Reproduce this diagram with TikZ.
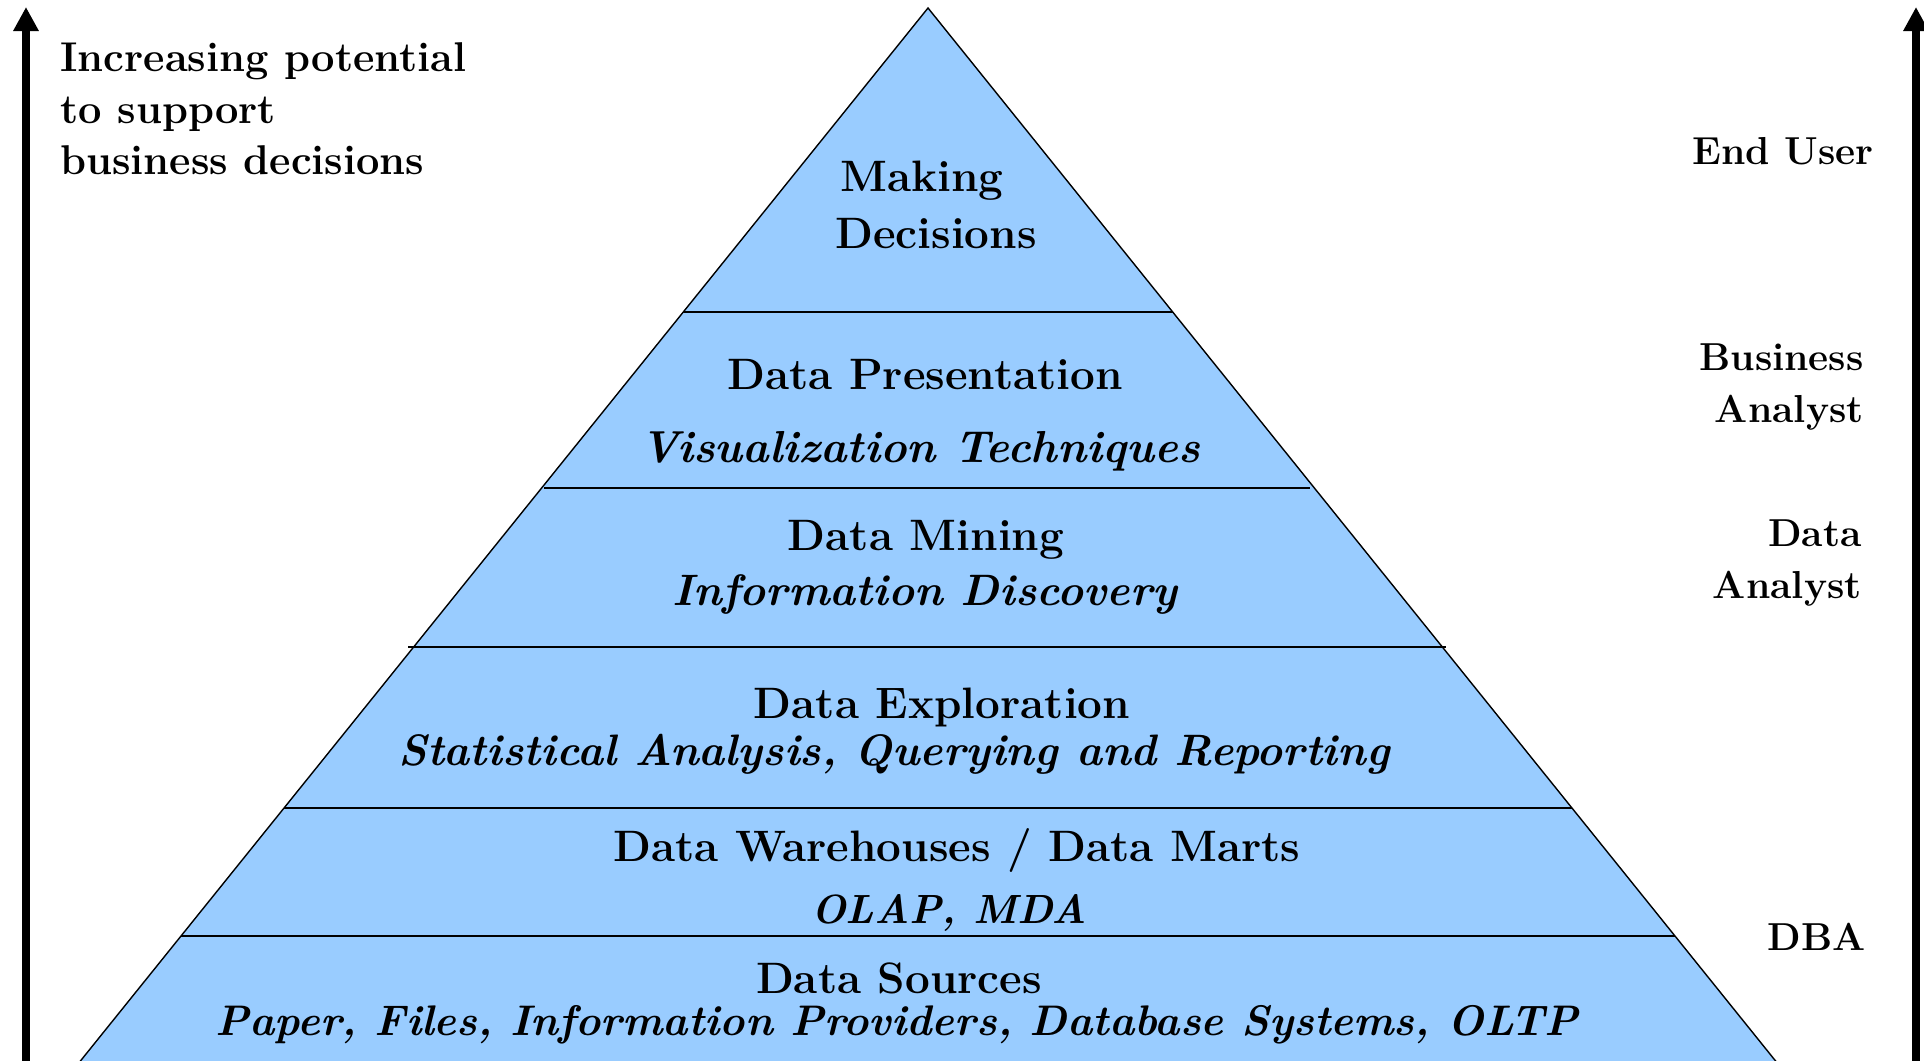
\documentclass[tikz,border=0pt]{standalone}
\usetikzlibrary{arrows.meta}
\definecolor{pyrblue}{HTML}{99CCFF}
\begin{document}
\begin{tikzpicture}[x=0.5pt,y=-0.5pt,
  lbl/.style={font=\fontsize{22}{26}\selectfont\bfseries, inner sep=0pt},
  itl/.style={font=\fontsize{22}{26}\selectfont\bfseries\itshape, inner sep=0pt},
  side/.style={font=\fontsize{19.5}{26.3}\selectfont\bfseries, inner sep=0pt, align=right, anchor=east},
  tier/.style={line width=0.85pt},
  edge/.style={line width=0.7pt},
  axis/.style={line width=4pt, -{Triangle[length=12pt,width=12pt]}}]
\useasboundingbox (0,0) rectangle (1924,1061);
% pyramid
\begin{scope}
\clip (0,0) rectangle (1924,1061);
\coordinate (apex) at (928,8);
\coordinate (bl) at (49,1100);
\coordinate (br) at (1807,1100);
\filldraw[fill=pyrblue, draw=black, edge] (apex) -- (br) -- (bl) -- cycle;
\end{scope}
% tier lines
\coordinate (t1a) at (683,312);  \coordinate (t1b) at (1173,312);
\coordinate (t2a) at (544,488);  \coordinate (t2b) at (1310,488);
\coordinate (t3a) at (408,647);  \coordinate (t3b) at (1446,647);
\coordinate (t4a) at (284,808);  \coordinate (t4b) at (1572,808);
\coordinate (t5a) at (181,936);  \coordinate (t5b) at (1675,936);
\draw[tier] (t1a) -- (t1b);
\draw[tier] (t2a) -- (t2b);
\draw[tier] (t3a) -- (t3b);
\draw[tier] (t4a) -- (t4b);
\draw[tier] (t5a) -- (t5b);
% axes
\coordinate (la0) at (26,1070); \coordinate (la1) at (26,7);
\coordinate (ra0) at (1916,1070); \coordinate (ra1) at (1916,7);
\draw[axis] (la0) -- (la1);
\draw[axis] (ra0) -- (ra1);
% pyramid text
\node[lbl] (mk) at (922,181) {Making};
\node[lbl] (dc) at (936,234) {Decisions};
\node[lbl] (dp) at (925,375) {Data Presentation};
\node[itl, font=\fontsize{22.4}{26}\selectfont\bfseries\itshape] (vt) at (920,451) {Visualization Techniques};
\node[lbl] (dm) at (926,540) {Data Mining};
\node[itl] (id) at (925,594) {Information Discovery};
\node[lbl] (de) at (942,707) {Data Exploration};
\node[itl] (sa) at (894,754) {Statistical Analysis, Querying and Reporting};
\node[lbl] (dw) at (957,850) {Data Warehouses / Data Marts};
\node[itl, font=\fontsize{20.4}{26}\selectfont\bfseries\itshape] (ol) at (949,913) {OLAP, MDA};
\node[lbl] (ds) at (899,978) {Data Sources};
\node[itl, font=\fontsize{21.4}{26}\selectfont\bfseries\itshape] (pf) at (897,1025) {Paper, Files, Information Providers, Database Systems, OLTP};
% left label
\node[font=\fontsize{20.8}{25.75}\selectfont\bfseries, inner sep=0pt, align=left, anchor=west] (inc) at (60,109) {Increasing potential\\to support\\business decisions};
% right labels
\node[side] (eu) at (1874,151) {End User};
\node[side] (ba) at (1864,387) {Business\\Analyst};
\node[side] (da) at (1862,563) {Data\\Analyst};
\node[side] (dba) at (1866,937) {DBA};
\end{tikzpicture}
\end{document}
